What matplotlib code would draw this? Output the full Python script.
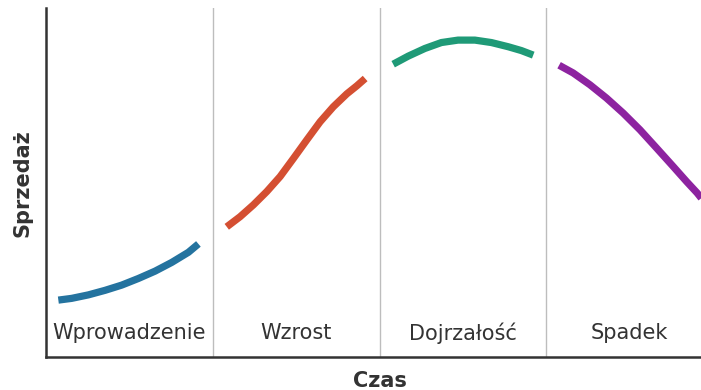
import matplotlib.pyplot as plt

# Product life cycle: four stages, sales over time
stages = ["Wprowadzenie", "Wzrost", "Dojrzałość", "Spadek"]
colors = ["#24739f", "#d44f32", "#1f9a77", "#8d23a0"]

intro_x = [0.074, 0.154, 0.254, 0.354, 0.454, 0.554, 0.654, 0.754, 0.854, 0.914]
intro_y = [0.163, 0.168, 0.178, 0.191, 0.206, 0.225, 0.246, 0.271, 0.300, 0.324]

growth_x = [1.084, 1.164, 1.244, 1.324, 1.404, 1.484, 1.564, 1.644, 1.723, 1.804,
            1.864, 1.914]
growth_y = [0.373, 0.402, 0.436, 0.474, 0.517, 0.569, 0.622, 0.674, 0.717, 0.754,
            0.777, 0.798]

mature_x = [2.082, 2.172, 2.272, 2.371, 2.471, 2.572, 2.671, 2.772, 2.851, 2.922]
mature_y = [0.839, 0.862, 0.884, 0.901, 0.908, 0.908, 0.901, 0.889, 0.878, 0.865]

decline_x = [3.077, 3.161, 3.262, 3.361, 3.461, 3.562, 3.661, 3.761, 3.841, 3.905,
             3.930]
decline_y = [0.836, 0.814, 0.780, 0.742, 0.699, 0.651, 0.599, 0.546, 0.503, 0.470,
             0.455]

series = [(intro_x, intro_y), (growth_x, growth_y),
          (mature_x, mature_y), (decline_x, decline_y)]

fig = plt.figure(figsize=(7.01, 3.9), dpi=100)
ax = fig.add_axes([46 / 701, 33 / 390, 667 / 701, 349 / 390])

for b in [1, 2, 3]:
    ax.axvline(b, color="#bdbdbd", lw=1.0, zorder=1)

for (x, y), c in zip(series, colors):
    ax.plot(x, y, color=c, lw=5.2, solid_capstyle="butt",
            solid_joinstyle="round", zorder=3)

for i, name in enumerate(stages):
    ax.text(i + 0.5, 0.068, name, ha="center", va="center",
            fontsize=15, color="#333333")

ax.set_xlim(0, 4)
ax.set_ylim(0, 1)
ax.set_xticks([])
ax.set_yticks([])
for s in ["top", "right"]:
    ax.spines[s].set_visible(False)
for s in ["left", "bottom"]:
    ax.spines[s].set_color("#333333")
    ax.spines[s].set_linewidth(1.8)

fig.text(380 / 701, 1 - 381 / 390, "Czas", ha="center", va="center",
         fontsize=15, fontweight="bold", color="#333333")
fig.text(22 / 701, 1 - 183 / 390, "Sprzedaż", ha="center", va="center",
         rotation=90, fontsize=15, fontweight="bold", color="#333333")

fig.savefig("out.png", dpi=100)
